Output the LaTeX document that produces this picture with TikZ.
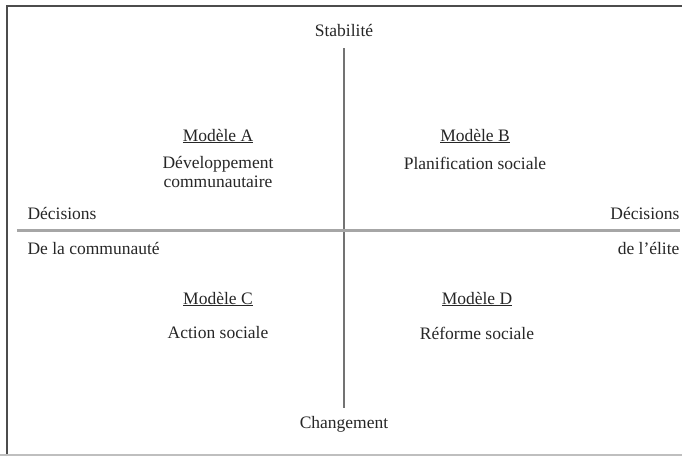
\documentclass[tikz,border=0pt]{standalone}
\usepackage{fontspec}
\setmainfont{Liberation Serif}
\usetikzlibrary{positioning}

\begin{document}
\begin{tikzpicture}[x=1pt,y=1pt,on grid,
    every node/.style={font=\fontsize{17.5}{19}\selectfont,text=black!85},
    axe/.style={draw=black!45,line width=2pt}]
      \useasboundingbox (-344,-226) rectangle (338,230);
      % cadre
      \draw[black!70,line width=2pt] (-337,-226) -- (-337,224) -- (338,224);
      \draw[black!25,line width=1.5pt] (-344,-225) -- (338,-225);

      \coordinate (centre) at (0,0);
      \node (stab) [above=200pt of centre,anchor=center] {Stabilité};
      \node (chg) [below=194pt of centre,anchor=center] {Changement};
      \coordinate (haut) at (0,182);
      \coordinate (bas) at (0,-178);
      \coordinate (gauche) at (-327,0);
      \coordinate (droite) at (336,0);

      \node (modA) [above left=94pt and 126pt of centre,anchor=center] {\underline{Modèle A}};
      \node (devA) [below=36pt of modA,anchor=center,align=center] {Développement\\communautaire};
      \node (modB) [above right=94pt and 131pt of centre,anchor=center] {\underline{Modèle B}};
      \node (plaB) [below=27pt of modB,anchor=center] {Planification sociale};
      \node (modC) [below left=69pt and 126pt of centre,anchor=center] {\underline{Modèle C}};
      \node (actC) [below=34pt of modC,anchor=center] {Action sociale};
      \node (modD) [below right=69pt and 133pt of centre,anchor=center] {\underline{Modèle D}};
      \node (refD) [below=34pt of modD,anchor=center] {Réforme sociale};

      \node[anchor=west] (decG) at (-320,17) {Décisions};
      \node[anchor=west] (comG) at (-320,-18) {De la communauté};
      \node[anchor=east] (decD) at (339,17) {Décisions};
      \node[anchor=east] (eliD) at (339,-18) {de l'élite};

      \path[axe,draw=black!55] (haut) -- (bas);
      \path[axe,draw=black!35,line width=3pt] (gauche) -- (droite);
    \end{tikzpicture}
\end{document}
